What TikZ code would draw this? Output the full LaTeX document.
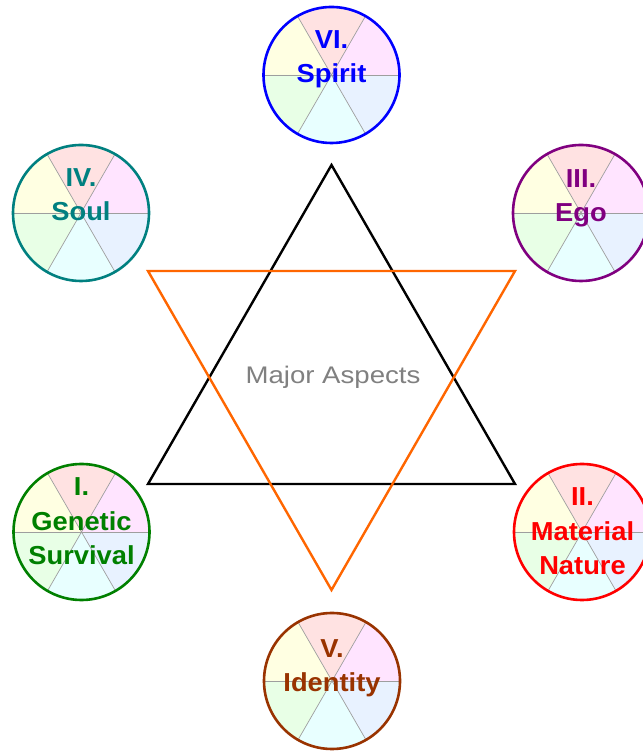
\documentclass[tikz,border=0pt]{standalone}
\usepackage{fontspec}
\setmainfont{Liberation Sans}
\usepackage{graphicx}
\definecolor{secTop}{HTML}{FFE2E2}
\definecolor{secTR}{HTML}{FFE4FF}
\definecolor{secBR}{HTML}{E8F2FF}
\definecolor{secBot}{HTML}{E8FFFF}
\definecolor{secBL}{HTML}{E8FFE6}
\definecolor{secTL}{HTML}{FFFFE2}
\definecolor{cSpirit}{HTML}{0000FF}
\definecolor{cSoul}{HTML}{008080}
\definecolor{cEgo}{HTML}{800080}
\definecolor{cGen}{HTML}{008000}
\definecolor{cMat}{HTML}{FF0000}
\definecolor{cId}{HTML}{993300}
\definecolor{cOrange}{HTML}{FF6600}
\definecolor{cGray}{HTML}{808080}
\newcommand\sx[1]{\scalebox{1.05}[1]{#1}}
\newcommand\mywheel[3]{%
 \begin{scope}[shift={(#1,#2)}]
  \fill[secTop] (0,0) -- (60:68) arc[start angle=60,end angle=120,radius=68] -- cycle;
  \fill[secTL] (0,0) -- (120:68) arc[start angle=120,end angle=180,radius=68] -- cycle;
  \fill[secBL] (0,0) -- (180:68) arc[start angle=180,end angle=240,radius=68] -- cycle;
  \fill[secBot] (0,0) -- (240:68) arc[start angle=240,end angle=300,radius=68] -- cycle;
  \fill[secBR] (0,0) -- (300:68) arc[start angle=300,end angle=360,radius=68] -- cycle;
  \fill[secTR] (0,0) -- (0:68) arc[start angle=0,end angle=60,radius=68] -- cycle;
  \foreach \a in {0,60,...,300} \draw[spoke] (0,0) -- (\a:68);
  \draw[rim=#3] (0,0) circle[radius=68];
 \end{scope}}
\begin{document}
\begin{tikzpicture}[x=1pt,y=1pt,
  spoke/.style={draw=black!38,line width=0.7pt},
  rim/.style={draw=#1,line width=2.6pt},
  lbl/.style={font=\bfseries\fontsize{26}{34.5}\selectfont,align=center,inner sep=0pt,anchor=base},
  tri/.style={line width=2.4pt,line join=miter}]
\useasboundingbox (0,0) rectangle (642,751);
\fill[white] (0,0) rectangle (642,751);
% wheels
\mywheel{331.5}{676}{cSpirit}
\mywheel{81}{538}{cSoul}
\mywheel{581}{538}{cEgo}
\mywheel{81.5}{219}{cGen}
\mywheel{582}{219}{cMat}
\mywheel{332}{70}{cId}
% triangles
\coordinate (bt) at (331.5,586);
\coordinate (bl) at (148,267);
\coordinate (br) at (515,267);
\coordinate (ol) at (148,480);
\coordinate (or) at (515,480);
\coordinate (ob) at (331.5,161);
\draw[tri,black] (bt) -- (bl) -- (br) -- cycle;
\draw[tri,cOrange] (ol) -- (or) -- (ob) -- cycle;
% labels
\node[lbl,text=cSpirit] (spirit) at (331.5,668) {\sx{VI.}\\\sx{Spirit}};
\node[lbl,text=cSoul] (soul) at (81,530) {\sx{IV.}\\\sx{Soul}};
\node[lbl,text=cEgo] (ego) at (581,529) {\sx{III.}\\\sx{Ego}};
\node[lbl,text=cId] (identity) at (332,59) {\sx{V.}\\\sx{Identity}};
\node[lbl,text=cGen] (genetic) at (81.5,186) {\sx{I.}\\\sx{Genetic}\\\sx{Survival}};
\node[lbl,text=cMat] (material) at (582.5,176) {\sx{II.}\\\sx{Material}\\\sx{Nature}};
\node[font=\fontsize{24}{28}\selectfont,text=cGray,inner sep=0pt,anchor=base] (major) at (333,367) {\scalebox{1.15}[1]{Major Aspects}};
\end{tikzpicture}
\end{document}
